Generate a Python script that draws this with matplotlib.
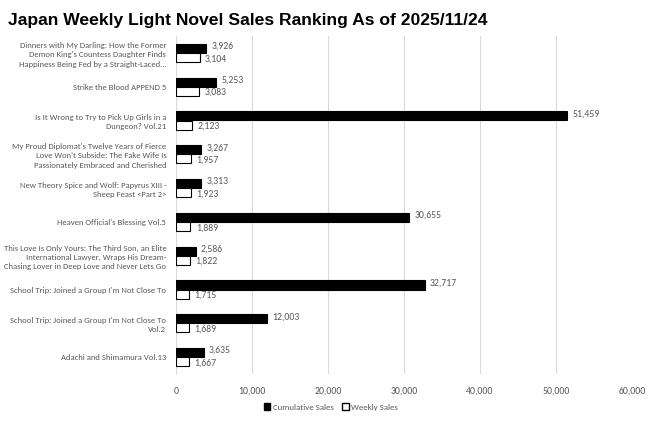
import matplotlib

matplotlib.use("Agg")
import matplotlib.pyplot as plt
from matplotlib import font_manager
from matplotlib.patches import Patch
import numpy as np

titulos = [
    "Dinners with My Darling: How the Former\nDemon King's Countess Daughter Finds\nHappiness Being Fed by a Straight-Laced...",
    "Strike the Blood APPEND 5",
    "Is It Wrong to Try to Pick Up Girls in a\nDungeon? Vol.21",
    "My Proud Diplomat's Twelve Years of Fierce\nLove Won't Subside: The Fake Wife Is\nPassionately Embraced and Cherished",
    "New Theory Spice and Wolf: Papyrus XIII -\nSheep Feast <Part 2>",
    "Heaven Official's Blessing Vol.5",
    "This Love Is Only Yours: The Third Son, an Elite\nInternational Lawyer, Wraps His Dream-\nChasing Lover in Deep Love and Never Lets Go",
    "School Trip: Joined a Group I'm Not Close To",
    "School Trip: Joined a Group I'm Not Close To\nVol.2",
    "Adachi and Shimamura Vol.13",
]
vendas_acumuladas = [3926, 5253, 51459, 3267, 3313, 30655, 2586, 32717, 12003, 3635]
vendas_semanais = [3104, 3083, 2123, 1957, 1923, 1889, 1822, 1715, 1689, 1667]
ticks_x = [0, 10000, 20000, 30000, 40000, 50000, 60000]

_COR_TEXTO = "#595959"
instaladas = {f.name for f in font_manager.fontManager.ttflist}
_fonte = next(n for n in ["Carlito", "Fira Sans Condensed", "PT Sans Narrow", "Liberation Sans"] if n in instaladas)
plt.rcParams["font.family"] = [_fonte, "DejaVu Sans"]

fig = plt.figure(figsize=(6.6, 4.21), dpi=100)
ax = fig.add_axes([176 / 660, 1 - 374 / 421, (632 - 176) / 660, (374 - 36) / 421])

y = np.arange(len(titulos))
h = 0.27
ax.barh(y - h / 2, vendas_acumuladas, height=h, color="black", edgecolor="black", linewidth=0.8, zorder=3)
ax.barh(y + h / 2, vendas_semanais, height=h, color="white", edgecolor="black", linewidth=0.8, zorder=3)

for i, (a, s) in enumerate(zip(vendas_acumuladas, vendas_semanais)):
    ax.text(a + 700, i - h / 2 - 0.06, f"{a:,}", fontsize=7, color=_COR_TEXTO, va="center", ha="left")
    ax.text(s + 700, i + h / 2 + 0.04, f"{s:,}", fontsize=7, color=_COR_TEXTO, va="center", ha="left")

ax.set_xlim(0, 60000)
ax.set_ylim(len(titulos) - 0.5, -0.5)
ax.set_xticks(ticks_x)
ax.set_xticklabels([f"{t:,}" for t in ticks_x], fontsize=7, color=_COR_TEXTO)
ax.set_yticks(y)
rotulos = ax.set_yticklabels(titulos, fontsize=7, color=_COR_TEXTO, linespacing=1.4)
ax.tick_params(axis="both", length=0, pad=7)
ax.tick_params(axis="x", pad=9)
ax.grid(axis="x", color="#d9d9d9", linewidth=0.8, zorder=0)
for lado in ["top", "right", "bottom"]:
    ax.spines[lado].set_visible(False)
ax.spines["left"].set_color("#d9d9d9")

# os rótulos longos precisam caber à esquerda do eixo (~163 px)
renderer = fig.canvas.get_renderer()
largura = max(r.get_window_extent(renderer).width for r in rotulos)
if largura > 163:
    tamanho = 7 * 163 / largura
    for r in rotulos:
        r.set_fontsize(tamanho)

fig.text(8 / 660, 1 - 20 / 421, "Japan Weekly Light Novel Sales Ranking As of 2025/11/24",
         fontsize=12.6, fontweight="bold", ha="left", va="center", color="black",
         family=["Liberation Sans", "DejaVu Sans"])

legenda = [
    Patch(facecolor="black", edgecolor="black", label="Cumulative Sales"),
    Patch(facecolor="white", edgecolor="black", label="Weekly Sales"),
]
fig.legend(handles=legenda, loc="center", bbox_to_anchor=(331 / 660, 1 - 407 / 421), ncol=2,
           frameon=False, fontsize=6.4, handlelength=0.7, handleheight=0.7, handletextpad=0.3,
           columnspacing=1.0, labelcolor=_COR_TEXTO)

fig.savefig("out.png", dpi=100)
